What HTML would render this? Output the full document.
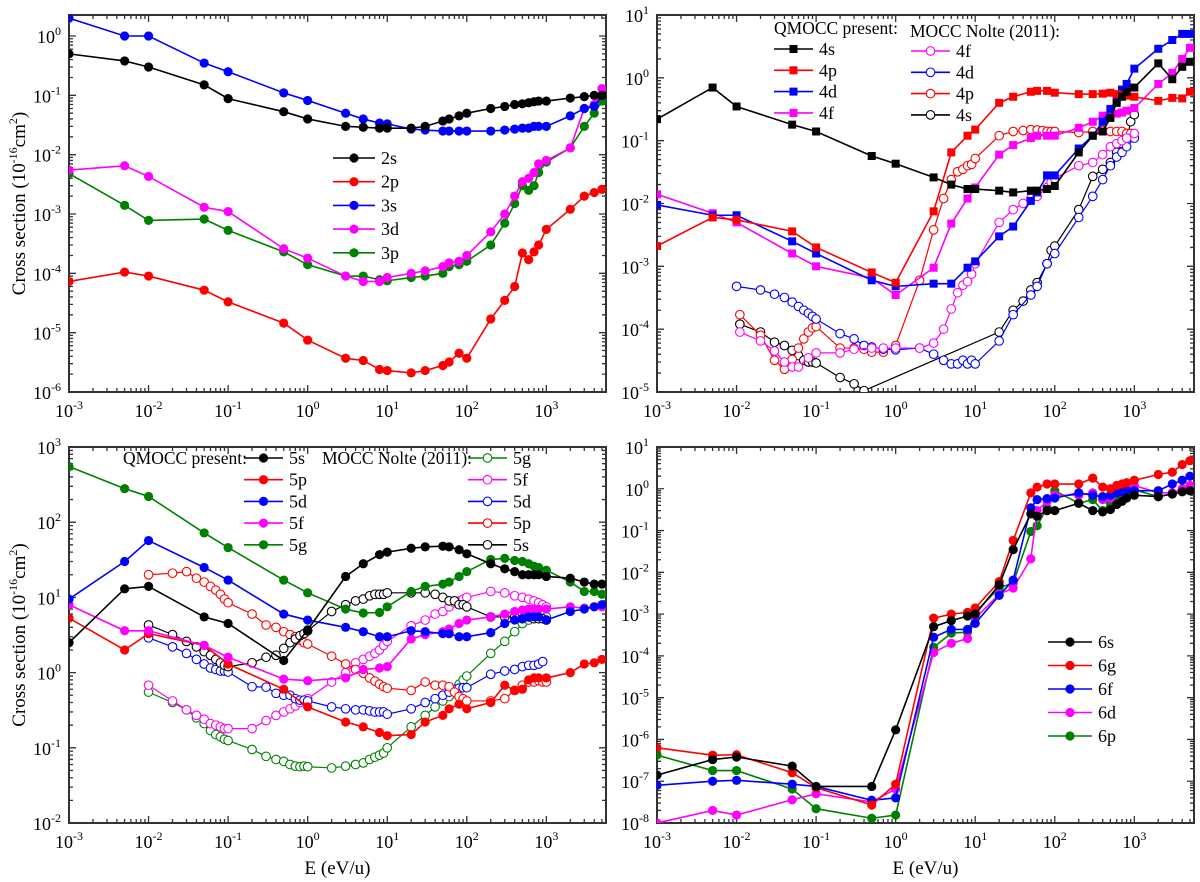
<!DOCTYPE html>
<html><head><meta charset="utf-8"><style>
html,body{margin:0;padding:0;background:#fff;}
svg{display:block;font-family:"Liberation Serif",serif;}
</style></head><body>
<svg id="chart" width="1200" height="882" viewBox="0 0 1200 882" xmlns="http://www.w3.org/2000/svg"></svg>
<script>
// ---------- data ----------
const gridE = [0.001,0.005,0.01,0.05,0.1,0.5,1,3,5,8,10,20,30,50,60,80,100,200,300,400,500,600,700,800,1000,2000,3000,4000,5000];

// panel (a) n=2,3
const s2s = [0.5,0.38,0.3,0.15,0.088,0.053,0.04,0.03,0.029,0.028,0.028,0.028,0.03,0.037,0.04,0.045,0.05,0.06,0.065,0.07,0.072,0.075,0.078,0.08,0.08,0.09,0.095,0.1,0.1];
const s2p = [7.3e-5,1.05e-4,9e-5,5.2e-5,3.3e-5,1.45e-5,7.5e-6,3.7e-6,3.4e-6,2.4e-6,2.3e-6,2.1e-6,2.3e-6,2.8e-6,3.2e-6,4.5e-6,3.7e-6,1.7e-5,3.5e-5,6e-5,2.2e-4,1.7e-4,2.3e-4,3e-4,5.5e-4,1.2e-3,2e-3,2.3e-3,2.6e-3];
const s3s = [2.0,1.0,1.0,0.35,0.25,0.11,0.082,0.05,0.04,0.034,0.033,0.027,0.026,0.025,0.025,0.025,0.025,0.025,0.026,0.027,0.028,0.028,0.03,0.03,0.03,0.045,0.06,0.065,0.1];
const s3d = [0.0055,0.0065,0.0043,0.0013,0.0011,0.00026,0.00018,0.00009,0.000073,0.000073,0.000085,0.0001,0.00011,0.00013,0.00015,0.00016,0.0002,0.0005,0.001,0.002,0.0035,0.004,0.005,0.007,0.008,0.013,0.06,0.07,0.13];
const s3p = [0.0048,0.0014,0.00078,0.00082,0.00053,0.00023,0.00014,0.00009,0.00009,0.000078,0.000075,0.000085,0.00009,0.0001,0.00013,0.00014,0.00016,0.0003,0.0007,0.0015,0.003,0.0025,0.003,0.005,0.0075,0.013,0.03,0.05,0.08];

// panel (b) n=4
const q4s = [0.22,0.7,0.35,0.18,0.14,0.057,0.043,0.026,0.02,0.017,0.017,0.016,0.015,0.016,0.016,0.017,0.019,0.065,0.12,0.14,0.23,0.4,0.5,0.6,0.7,1.7,0.95,1.5,1.8];
const q4p = [0.0021,0.006,0.0055,0.0036,0.002,0.0008,0.00055,0.0075,0.065,0.12,0.15,0.4,0.5,0.6,0.62,0.62,0.58,0.55,0.55,0.56,0.58,0.55,0.53,0.52,0.5,0.43,0.48,0.47,0.6];
const q4d = [0.0095,0.0065,0.0065,0.0025,0.0016,0.0006,0.00048,0.00053,0.00053,0.00095,0.0012,0.003,0.0043,0.011,0.015,0.028,0.028,0.075,0.12,0.2,0.32,0.45,0.65,0.8,1.4,2.9,4.0,5.0,5.0];
const q4f = [0.014,0.007,0.005,0.0016,0.001,0.00065,0.00035,0.00095,0.0048,0.012,0.018,0.06,0.085,0.11,0.12,0.12,0.12,0.16,0.2,0.25,0.27,0.27,0.28,0.3,0.33,0.8,1.2,2,3];
const n4fE = [0.011,0.02,0.03,0.04,0.05,0.06,0.08,0.1,0.2,0.3,0.5,0.7,1,2,3,4,5,6,7,8,9,10,20,30,40,50,60,80,90,100,200,300,400,500,600,700,800,1000];
const n4f  = [9e-5,6.5e-5,4.5e-5,3e-5,2.5e-5,2.5e-5,3.5e-5,4.2e-5,4.2e-5,4.8e-5,5e-5,5e-5,5e-5,5e-5,6e-5,1e-4,2.1e-4,3.8e-4,5e-4,5.7e-4,7.5e-4,1.1e-3,5e-3,8e-3,0.01,0.012,0.013,0.018,0.022,0.025,0.04,0.045,0.06,0.08,0.09,0.1,0.11,0.13];
const n4dE = [0.01,0.02,0.03,0.04,0.05,0.06,0.07,0.08,0.09,0.1,0.2,0.3,0.4,0.5,0.7,1,2,3,4,5,6,7,8,9,10,20,30,50,60,80,100,200,300,400,500,600,700,800,1000];
const n4d  = [4.8e-4,4.2e-4,3.6e-4,3.2e-4,2.7e-4,2.3e-4,2e-4,1.8e-4,1.6e-4,1.45e-4,8.5e-5,7e-5,5.5e-5,5.2e-5,4.8e-5,4.7e-5,5e-5,4e-5,3.2e-5,2.8e-5,2.8e-5,3.2e-5,2.8e-5,3.2e-5,2.8e-5,6.5e-5,1.7e-4,3.5e-4,4.8e-4,1.1e-3,1.6e-3,6e-3,0.013,0.024,0.04,0.055,0.065,0.08,0.11];
const n4pE = [0.011,0.02,0.03,0.04,0.05,0.06,0.07,0.08,0.09,0.1,0.2,0.3,0.4,0.5,0.7,1,2,3,4,5,6,7,8,9,10,20,30,40,50,60,70,80,90,100,200,300,400,500,600,700,800,900];
const n4p  = [1.7e-4,8e-5,3.2e-5,2.3e-5,3.3e-5,5e-5,7e-5,9e-5,1.05e-4,1.1e-4,5e-5,5e-5,4.8e-5,4.3e-5,4.3e-5,5.5e-5,6e-4,3.8e-3,0.012,0.024,0.032,0.035,0.04,0.042,0.052,0.12,0.14,0.145,0.15,0.148,0.145,0.14,0.14,0.14,0.135,0.14,0.145,0.14,0.14,0.14,0.13,0.13];
const n4sE = [0.011,0.02,0.03,0.04,0.05,0.06,0.07,0.08,0.09,0.1,0.2,0.3,0.4,20,30,40,50,60,80,90,100,200,300,400,500,600,700,800,900,1000];
const n4s  = [1.2e-4,9e-5,6.2e-5,5.5e-5,4.6e-5,3.8e-5,3.2e-5,3e-5,3e-5,2.9e-5,1.7e-5,1.35e-5,1.05e-5,9e-5,2e-4,2.8e-4,4.2e-4,5.5e-4,1.1e-3,1.8e-3,2.1e-3,8e-3,0.027,0.035,0.045,0.065,0.09,0.1,0.2,0.26];

// panel (c) n=5
const q5s = [2.5,13,14,5.5,4.5,1.45,3.7,19,28,37,40,45,47,48,47,43,38,28,24,22,20,20,20,20,19,18,16,15,15];
const q5p = [5.3,2.0,3.3,2.3,1.3,0.6,0.35,0.22,0.19,0.16,0.145,0.15,0.22,0.27,0.33,0.38,0.33,0.4,0.68,0.58,0.6,0.8,0.85,0.85,0.85,1.0,1.3,1.35,1.5];
const q5d = [9.5,30,57,25,17,6,5,4,3.5,3,3,3.6,3.5,3.3,3.3,3,3,3.4,4.5,5,5.2,5.5,5.5,5.5,5,6.5,7,7.5,8];
const q5f = [8,3.6,3.6,2.3,1.6,0.82,0.78,0.85,1.1,1.15,1.2,2.8,3.2,3.5,3.8,4.5,5,5.5,6,6.5,6.8,7,7,7,7,7.5,7.2,7.5,7.5];
const q5g = [550,280,220,72,46,17,11.5,7,6.2,6.3,7.5,12,14,15,16,19,22,32,33,31,30,28,26,25,23,16,12,12,11];
const nolteE = [0.01,0.02,0.03,0.04,0.05,0.06,0.07,0.08,0.09,0.1,0.2,0.3,0.4,0.5,0.6,0.7,0.8,0.9,1,2,3,4,5,6,7,8,9,10,20,30,40,50,60,70,80,90,100,200,300,400,500,600,700,800,900,1000];
const n5g = [0.55,0.4,0.32,0.25,0.21,0.17,0.15,0.14,0.13,0.125,0.095,0.077,0.07,0.066,0.06,0.057,0.056,0.057,0.056,0.054,0.057,0.06,0.063,0.07,0.075,0.08,0.085,0.1,0.19,0.27,0.35,0.42,0.48,0.6,0.7,0.8,0.9,1.8,2.6,3.5,4.5,5,5.5,6,5.8,5.5];
const n5f = [0.68,0.42,0.32,0.27,0.24,0.21,0.2,0.19,0.18,0.18,0.18,0.23,0.27,0.3,0.33,0.36,0.4,0.43,0.45,0.75,1.0,1.35,1.5,1.65,1.8,2,2.3,2.6,4.2,5,6,6.5,7.5,8.5,9,9.5,10,12,11.5,10.5,10,9.5,9,8.5,8,7.5];
const n5d = [2.9,2.2,1.8,1.5,1.3,1.15,1.1,1.05,1.05,1.02,0.65,0.64,0.53,0.5,0.5,0.45,0.43,0.43,0.42,0.35,0.33,0.32,0.32,0.31,0.3,0.3,0.3,0.28,0.33,0.4,0.45,0.5,0.55,0.6,0.62,0.63,0.63,0.95,1.05,1.1,1.2,1.25,1.25,1.3,1.4,1.4];
const n5p = [20,21,22,18,16,14,12.5,11,9.5,8.5,6,4.3,4,3.5,3.2,3,2.7,2.5,2.4,1.65,1.3,1.1,0.98,0.85,0.77,0.7,0.65,0.62,0.58,0.75,0.68,0.68,0.65,0.55,0.48,0.45,0.42,0.42,0.45,0.58,0.68,0.75,0.75,0.78,0.75,0.75];
const n5s = [4.3,3.2,2.6,2.2,1.9,1.7,1.5,1.35,1.25,1.2,1.35,1.6,1.7,2.1,2.5,2.8,3.1,3.3,3.6,6.5,8,9,9.5,10.5,11,11,11,11.5,11.5,11.5,11,10,9,9,8,8,7.5,5.5,5.5,5.5,5.2,5.5,5.2,5.2,5.2,5];

// panel (d) n=6
const q6s = [1.4e-7,3.3e-7,3.8e-7,2.3e-7,7.5e-8,7.5e-8,1.7e-6,5e-4,7e-4,9e-4,1e-3,5e-3,0.035,0.25,0.22,0.3,0.3,0.45,0.3,0.28,0.32,0.42,0.5,0.6,0.7,0.65,0.75,0.85,0.9];
const q6g = [6.3e-7,4.2e-7,4.3e-7,1.6e-7,7e-8,2.7e-8,8.5e-8,8e-4,1e-3,1.1e-3,1.4e-3,6e-3,0.058,0.8,1.1,1.3,1.3,1.3,1.8,1.1,1.0,1.2,1.3,1.4,1.6,2.2,2.5,3.8,4.7];
const q6f = [8e-8,1e-7,1.05e-7,8.5e-8,7.5e-8,3.5e-8,4e-8,2.8e-4,4.3e-4,4.3e-4,6e-4,2.8e-3,6.5e-3,0.35,0.55,0.58,0.6,0.8,0.7,0.65,0.7,0.8,0.85,0.9,0.9,0.9,1.3,1.6,2.0];
const q6d = [1e-8,2e-8,1.55e-8,3.6e-8,5e-8,3.2e-8,6.5e-8,1.2e-4,2e-4,2.6e-4,8e-4,3e-3,4.2e-3,0.021,0.3,0.5,0.7,0.7,0.8,0.55,0.6,0.8,1.0,1.1,1.2,0.8,0.8,1.0,1.2];
const q6p = [4.2e-7,1.8e-7,1.8e-7,6.5e-8,2.2e-8,1.3e-8,1.55e-8,1.6e-4,3.5e-4,3.7e-4,1.1e-3,4.3e-3,5.5e-3,0.095,0.13,0.35,0.9,0.45,0.55,0.3,0.45,0.6,0.8,1.0,0.95,0.65,0.75,0.85,0.9];

const xDecades = [-3,-2,-1,0,1,2,3];

// ---------- drawing ----------
const NS = 'http://www.w3.org/2000/svg';
const svg = document.getElementById('chart');
const COL = {k:'#000000', r:'#ff0000', b:'#0000ff', m:'#ff00ff', g:'#008000'};
function mk(tag, attrs, parent){
  const e = document.createElementNS(NS, tag);
  for (const k in attrs) e.setAttribute(k, attrs[k]);
  (parent||svg).appendChild(e);
  return e;
}
function powLabel(parent, x, y, exp, anchor){
  const t = mk('text', {x:x, y:y, 'font-size':18, 'text-anchor':anchor, fill:'#000'}, parent);
  
  
  const a = document.createElementNS(NS,'tspan'); a.textContent='10'; t.appendChild(a);
  const b = document.createElementNS(NS,'tspan'); b.setAttribute('dy','-8'); b.setAttribute('font-size','12'); b.textContent=String(exp); t.appendChild(b);
  return t;
}

function makePanel(id, x0, x1, y0, y1, ylo, yhi, yDec, leftTitle, bottomTitle){
  const xlo = -3, xhi = 3.75;
  const g = mk('g', {});
  
  
  const sx = v => x0 + (Math.log10(v) - xlo) / (xhi - xlo) * (x1 - x0);
  const sy = v => y1 - (Math.log10(v) - ylo) / (yhi - ylo) * (y1 - y0);
  const cp = mk('clipPath', {id:'clip-'+id}, g);
  mk('rect', {x:x0, y:y0, width:x1-x0, height:y1-y0}, cp);
  const tk = mk('g', {stroke:'#333', 'stroke-width':1.3, fill:'none'}, g);
  
  
  let d = '';
  for (let e = -3; e <= 4; e++) for (let m = 1; m <= 9; m++) {
    const lv = e + Math.log10(m);
    if (lv < xlo - 1e-9 || lv > xhi) continue;
    const x = sx(Math.pow(10, lv)); const L = m === 1 ? 7 : 4;
    d += `M${x},${y1}v${-L}M${x},${y0}v${L}`;
  }
  for (let e = ylo; e <= Math.ceil(yhi); e++) for (let m = 1; m <= 9; m++) {
    const lv = e + Math.log10(m);
    if (lv > yhi) continue;
    const y = sy(Math.pow(10, lv)); const L = m === 1 ? 7 : 4;
    d += `M${x0},${y}h${L}M${x1},${y}h${-L}`;
  }
  mk('path', {d:d}, tk);
  const fr = mk('rect', {x:x0, y:y0, width:x1-x0, height:y1-y0, fill:'none', stroke:'#333', 'stroke-width':2}, g);
  
  
  xDecades.forEach(e => powLabel(g, sx(Math.pow(10,e)), y1 + 25, e, 'middle'));
  yDec.forEach(e => powLabel(g, x0 - 8, sy(Math.pow(10,e)) + 7, e, 'end'));
  if (leftTitle) {
    const t = mk('text', {x:0, y:0, 'font-size':19, 'text-anchor':'middle', transform:`translate(25,${(y0+y1)/2}) rotate(-90)`}, g);
    
    
    t.innerHTML = 'Cross section (10<tspan dy="-8" font-size="12">-16</tspan><tspan dy="8">cm</tspan><tspan dy="-8" font-size="12">2</tspan><tspan dy="8">)</tspan>';
  }
  if (bottomTitle) {
    const t = mk('text', {x:(x0+x1)/2, y:874, 'font-size':19, 'text-anchor':'middle'}, g);
    
    
    t.textContent = 'E (eV/u)';
  }
  const plot = mk('g', {'clip-path':`url(#clip-${id})`}, g);
  
  
  return {g, plot, sx, sy};
}

function marker(parent, x, y, color, kind){
  let e;
  if (kind === 'sq') e = mk('rect', {x:x-4, y:y-4, width:8, height:8, fill:color}, parent);
  else if (kind === 'open') e = mk('circle', {cx:x, cy:y, r:4.3, fill:'#fff', stroke:color, 'stroke-width':1.1}, parent);
  else e = mk('circle', {cx:x, cy:y, r:4.6, fill:color}, parent);
  return e;
}

function series(P, name, xs, ys, color, kind){
  const g = mk('g', {}, P.plot);
  
  
  const pts = xs.map((x,i) => [P.sx(x), P.sy(ys[i])]);
  const l = mk('polyline', {points: pts.map(p => p.join(',')).join(' '), fill:'none', stroke:color, 'stroke-width': kind==='open'?1.2:1.6}, g);
  
  
  pts.forEach(p => {
    const m = marker(g, p[0], p[1], color, kind);
    
    
  });
}

function legendEntry(parent, xl, y, len, color, kind, label){
  const g = mk('g', {}, parent);
  
  
  mk('line', {x1:xl, y1:y, x2:xl+len, y2:y, stroke:color, 'stroke-width':1.6}, g);
  marker(g, xl + len/2, y, color, kind);
  const t = mk('text', {x:xl+len+6, y:y+6, 'font-size':18}, g);
  t.textContent = label;
}
function legendText(parent, x, y, s){
  const t = mk('text', {x:x, y:y, 'font-size':17.5}, parent);
  
  
  t.textContent = s;
}

// Panel A
const A = makePanel('panel-n2-n3', 69, 606, 15, 392, -6, 0.354, [-6,-5,-4,-3,-2,-1,0], true, false);
series(A,'2p',gridE,s2p,COL.r,'fill');
series(A,'3p',gridE,s3p,COL.g,'fill');
series(A,'3d',gridE,s3d,COL.m,'fill');
series(A,'3s',gridE,s3s,COL.b,'fill');
series(A,'2s',gridE,s2s,COL.k,'fill');
const LA = mk('g', {}, A.g);  
[['2s',COL.k],['2p',COL.r],['3s',COL.b],['3d',COL.m],['3p',COL.g]].forEach((s,i)=>legendEntry(LA,333,158+i*23.7,42,s[1],'fill',s[0]));

// Panel B
const B = makePanel('panel-n4', 657, 1194, 15, 392, -5, 1, [-5,-4,-3,-2,-1,0,1], false, false);
series(B,'nolte-4s',n4sE,n4s,COL.k,'open');
series(B,'nolte-4p',n4pE,n4p,COL.r,'open');
series(B,'nolte-4d',n4dE,n4d,COL.b,'open');
series(B,'nolte-4f',n4fE,n4f,COL.m,'open');
series(B,'4f',gridE,q4f,COL.m,'sq');
series(B,'4d',gridE,q4d,COL.b,'sq');
series(B,'4p',gridE,q4p,COL.r,'sq');
series(B,'4s',gridE,q4s,COL.k,'sq');
const LB = mk('g', {}, B.g);  
legendText(LB, 774, 34, 'QMOCC present:');
legendText(LB, 910, 37, 'MOCC Nolte (2011):');
[['4s',COL.k],['4p',COL.r],['4d',COL.b],['4f',COL.m]].forEach((s,i)=>legendEntry(LB,774,49+i*21.3,39,s[1],'sq',s[0]));
[['4f',COL.m],['4d',COL.b],['4p',COL.r],['4s',COL.k]].forEach((s,i)=>legendEntry(LB,911,51+i*21.3,39,s[1],'open',s[0]));

// Panel C
const C = makePanel('panel-n5', 69, 606, 447, 823, -2, 3, [-2,-1,0,1,2,3], true, true);
series(C,'nolte-5g',nolteE,n5g,COL.g,'open');
series(C,'nolte-5f',nolteE,n5f,COL.m,'open');
series(C,'nolte-5d',nolteE.slice(0,45),n5d.slice(0,45),COL.b,'open');
series(C,'nolte-5p',nolteE,n5p,COL.r,'open');
series(C,'nolte-5s',nolteE,n5s,COL.k,'open');
series(C,'5p',gridE,q5p,COL.r,'fill');
series(C,'5f',gridE,q5f,COL.m,'fill');
series(C,'5d',gridE,q5d,COL.b,'fill');
series(C,'5g',gridE,q5g,COL.g,'fill');
series(C,'5s',gridE,q5s,COL.k,'fill');
const LC = mk('g', {}, C.g);  
legendText(LC, 123, 464, 'QMOCC present:');
legendText(LC, 322, 464, 'MOCC Nolte (2011):');
[['5s',COL.k],['5p',COL.r],['5d',COL.b],['5f',COL.m],['5g',COL.g]].forEach((s,i)=>legendEntry(LC,244,458+i*21.7,39,s[1],'fill',s[0]));
[['5g',COL.g],['5f',COL.m],['5d',COL.b],['5p',COL.r],['5s',COL.k]].forEach((s,i)=>legendEntry(LC,468,458+i*21.7,39,s[1],'open',s[0]));

// Panel D
const D = makePanel('panel-n6', 657, 1194, 447, 823, -8, 1, [-8,-7,-6,-5,-4,-3,-2,-1,0,1], false, true);
series(D,'6p',gridE,q6p,COL.g,'fill');
series(D,'6d',gridE,q6d,COL.m,'fill');
series(D,'6f',gridE,q6f,COL.b,'fill');
series(D,'6g',gridE,q6g,COL.r,'fill');
series(D,'6s',gridE,q6s,COL.k,'fill');
const LD = mk('g', {}, D.g);  
[['6s',COL.k],['6g',COL.r],['6f',COL.b],['6d',COL.m],['6p',COL.g]].forEach((s,i)=>legendEntry(LD,1048,642+i*23.5,44,s[1],'fill',s[0]));
</script>
</body></html>
